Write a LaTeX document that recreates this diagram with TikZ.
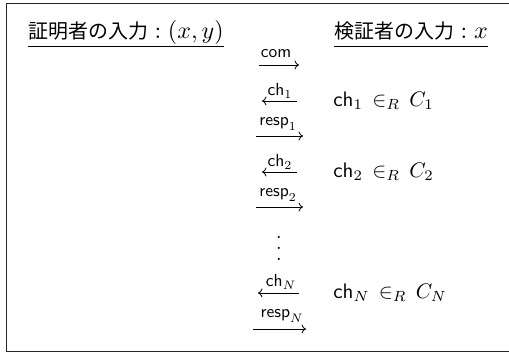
\documentclass[tikz,border=0pt]{standalone}
\usepackage{fontspec}
\newfontfamily\cjk{Noto Sans CJK JP}
\usetikzlibrary{arrows.meta}
\begin{document}
\begin{tikzpicture}[x=1pt,y=-1pt,
  hdr/.style={inner sep=0pt,anchor=base west,font=\fontsize{10}{12}\selectfont,scale=2.4,transform shape},
  lbl/.style={inner sep=0pt,font=\fontsize{10}{12}\selectfont,scale=1.75,transform shape},
  rt/.style={inner sep=0pt,anchor=west,font=\fontsize{10}{12}\selectfont,scale=2.1,transform shape},
  msg/.style={line width=0.8pt,-{Computer Modern Rightarrow[length=4.5pt,width=9pt]}},
  uline/.style={line width=0.9pt}]
\useasboundingbox (0,0) rectangle (509,351);
\draw[line width=1pt,black!85] (6,3) rectangle (514,351.5);
% headers
\node[hdr] (pin) at (28,38) {{\cjk\fontsize{8.3}{12}\selectfont 証明者の入力}${}:(x,y)$};
\node[hdr] (vin) at (334,38) {{\cjk\fontsize{8.3}{12}\selectfont 検証者の入力}${}:x$};
\draw[uline] ([yshift=-8pt]pin.base west) -- ([yshift=-8pt]pin.base east);
\draw[uline] ([yshift=-8pt]vin.base west) -- ([yshift=-8pt]vin.base east);
% com
\coordinate (c0a) at (259,65); \coordinate (c0b) at (299,65);
\draw[msg] (c0a) -- (c0b);
\node[lbl] (l0) at (276,54) {\textsf{com}};
% ch1
\coordinate (c1a) at (297,101); \coordinate (c1b) at (262,101);
\draw[msg] (c1a) -- (c1b);
\node[lbl] (l1) at (280,91) {$\mathsf{ch}_1$};
\node[rt] (t1) at (333,101) {$\mathsf{ch}_1\,\in_R\, C_1$};
% resp1
\coordinate (r1a) at (256,136); \coordinate (r1b) at (303,136);
\draw[msg] (r1a) -- (r1b);
\node[lbl] (m1) at (278,124) {$\mathsf{resp}_1$};
% ch2
\coordinate (c2a) at (297,172); \coordinate (c2b) at (262,172);
\draw[msg] (c2a) -- (c2b);
\node[lbl] (l2) at (280,162) {$\mathsf{ch}_2$};
\node[rt] (t2) at (333,172) {$\mathsf{ch}_2\,\in_R\, C_2$};
% resp2
\coordinate (r2a) at (256,207); \coordinate (r2b) at (303,207);
\draw[msg] (r2a) -- (r2b);
\node[lbl] (m2) at (278,195) {$\mathsf{resp}_2$};
% dots
\node[inner sep=0pt,align=center,font=\fontsize{10}{5.5}\selectfont,scale=2,transform shape] (dots) at (279,248) {.\\.\\.};
% chN
\coordinate (cNa) at (299,293); \coordinate (cNb) at (258,293);
\draw[msg] (cNa) -- (cNb);
\node[lbl] (lN) at (281,282) {$\mathsf{ch}_N$};
\node[rt] (tN) at (333,293) {$\mathsf{ch}_N\,\in_R\, C_N$};
% respN
\coordinate (rNa) at (253,329); \coordinate (rNb) at (306,329);
\draw[msg] (rNa) -- (rNb);
\node[lbl] (mN) at (282,316) {$\mathsf{resp}_N$};
\end{tikzpicture}
\end{document}
